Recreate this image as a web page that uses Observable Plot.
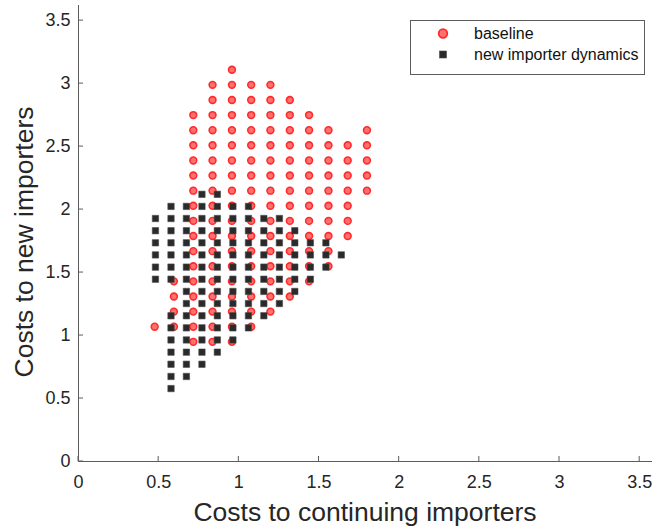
<!DOCTYPE html>
<html>
<head>
<meta charset="utf-8">
<script src="https://cdn.jsdelivr.net/npm/d3@7"></script>
<script src="https://cdn.jsdelivr.net/npm/@observablehq/plot@0.6"></script>
<style>
  html, body { margin: 0; padding: 0; background: #fff; }
  #chart svg { display: block; font-family: "Liberation Sans", Arial, Helvetica, sans-serif; }
</style>
</head>
<body>
<div id="chart"></div>
<script>
// ---- Data ----
const xTicks = [0, 0.5, 1, 1.5, 2, 2.5, 3, 3.5];
const xTickLabels = ["0", "0.5", "1", "1.5", "2", "2.5", "3", "3.5"];
const yTicks = [0, 0.5, 1, 1.5, 2, 2.5, 3, 3.5];
const yTickLabels = ["0", "0.5", "1", "1.5", "2", "2.5", "3", "3.5"];

const seriesNames = ["baseline", "new importer dynamics"];

// baseline: each row is a y value with the x values present on it
const baselineRows = [
  {y: 3.11, x: [0.957]},
  {y: 2.99, x: [0.836, 0.957, 1.077, 1.197]},
  {y: 2.87, x: [0.836, 0.957, 1.077, 1.197, 1.318]},
  {y: 2.75, x: [0.716, 0.836, 0.957, 1.077, 1.197, 1.318, 1.438]},
  {y: 2.63, x: [0.716, 0.836, 0.957, 1.077, 1.197, 1.318, 1.438, 1.559, 1.799]},
  {y: 2.51, x: [0.716, 0.836, 0.957, 1.077, 1.197, 1.318, 1.438, 1.559, 1.679, 1.799]},
  {y: 2.39, x: [0.716, 0.836, 0.957, 1.077, 1.197, 1.318, 1.438, 1.559, 1.679, 1.799]},
  {y: 2.27, x: [0.716, 0.836, 0.957, 1.077, 1.197, 1.318, 1.438, 1.559, 1.679, 1.799]},
  {y: 2.15, x: [0.716, 0.836, 0.957, 1.077, 1.197, 1.318, 1.438, 1.559, 1.679, 1.799]},
  {y: 2.03, x: [0.716, 0.836, 0.957, 1.077, 1.197, 1.318, 1.438, 1.559, 1.679]},
  {y: 1.91, x: [0.716, 0.836, 0.957, 1.077, 1.197, 1.318, 1.438, 1.559, 1.679]},
  {y: 1.79, x: [0.716, 0.836, 0.957, 1.077, 1.197, 1.318, 1.438, 1.559, 1.679]},
  {y: 1.67, x: [0.716, 0.836, 0.957, 1.077, 1.197, 1.318, 1.438, 1.559]},
  {y: 1.55, x: [0.716, 0.836, 0.957, 1.077, 1.197, 1.318, 1.438, 1.559]},
  {y: 1.43, x: [0.595, 0.716, 0.836, 0.957, 1.077, 1.197, 1.318, 1.438]},
  {y: 1.31, x: [0.595, 0.716, 0.836, 0.957, 1.077, 1.197, 1.318]},
  {y: 1.19, x: [0.595, 0.716, 0.836, 0.957, 1.077, 1.197]},
  {y: 1.07, x: [0.475, 0.595, 0.716, 0.836, 0.957, 1.077]},
  {y: 0.95, x: [0.716, 0.836, 0.957]}
];

// new importer dynamics
const dynamicsRows = [
  {y: 2.121, x: [0.770, 0.866]},
  {y: 2.025, x: [0.577, 0.673, 0.770, 0.866, 0.963, 1.060]},
  {y: 1.929, x: [0.480, 0.577, 0.673, 0.770, 0.866, 0.963, 1.060, 1.156, 1.253]},
  {y: 1.832, x: [0.480, 0.577, 0.673, 0.770, 0.866, 0.963, 1.060, 1.156, 1.253, 1.349]},
  {y: 1.736, x: [0.480, 0.577, 0.673, 0.770, 0.866, 0.963, 1.060, 1.156, 1.253, 1.349, 1.446, 1.543]},
  {y: 1.640, x: [0.480, 0.577, 0.673, 0.770, 0.866, 0.963, 1.060, 1.156, 1.253, 1.349, 1.446, 1.543, 1.639]},
  {y: 1.543, x: [0.480, 0.577, 0.673, 0.770, 0.866, 0.963, 1.060, 1.156, 1.253, 1.349, 1.446, 1.543]},
  {y: 1.447, x: [0.480, 0.577, 0.673, 0.770, 0.866, 0.963, 1.060, 1.156, 1.253, 1.349, 1.446]},
  {y: 1.350, x: [0.673, 0.770, 0.866, 0.963, 1.060, 1.156, 1.253, 1.349]},
  {y: 1.254, x: [0.673, 0.770, 0.866, 0.963, 1.060, 1.156, 1.253]},
  {y: 1.157, x: [0.577, 0.673, 0.770, 0.866, 0.963, 1.060, 1.156]},
  {y: 1.061, x: [0.577, 0.673, 0.770, 0.866, 0.963, 1.060]},
  {y: 0.965, x: [0.577, 0.673, 0.770, 0.866, 0.963]},
  {y: 0.868, x: [0.577, 0.673, 0.770, 0.866]},
  {y: 0.772, x: [0.577, 0.673, 0.770]},
  {y: 0.675, x: [0.577, 0.673]},
  {y: 0.579, x: [0.577]}
];

const xLabel = "Costs to continuing importers";
const yLabel = "Costs to new importers";

// ---- Build point tables ----
const baseline = baselineRows.flatMap(r => r.x.map(x => ({x, y: r.y})));
const dynamics = dynamicsRows.flatMap(r => r.x.map(x => ({x, y: r.y})));

const ink = "#262626";
const axisGray = "#5c5c5c";
const redStroke = "#ff2b2b";
const redFill = "#ff7070";
const blackFill = "#2a2a2a";

const chart = Plot.plot({
  width: 652,
  height: 527,
  marginLeft: 78,
  marginRight: 0,
  marginTop: 5,
  marginBottom: 66,
  style: {fontFamily: '"Liberation Sans", Arial, Helvetica, sans-serif', background: "#fff"},
  x: {domain: [0, 3.58], label: null},
  y: {domain: [0, 3.62], label: null},
  marks: [
    Plot.axisX({ticks: xTicks, tickFormat: (d, i) => xTickLabels[i], tickSize: 0, tickPadding: 14, fontSize: 18, fill: ink, label: null}),
    Plot.axisY({ticks: yTicks, tickFormat: (d, i) => yTickLabels[i], tickSize: 0, tickPadding: 8, fontSize: 18, fill: ink, label: null}),
    Plot.ruleY([0], {stroke: axisGray, strokeWidth: 1}),
    Plot.ruleX([0], {stroke: axisGray, strokeWidth: 1}),
    Plot.dot(baseline, {x: "x", y: "y", r: 3.4, fill: redFill, stroke: redStroke, strokeWidth: 1.6}),
    Plot.dot(dynamics, {x: "x", y: "y", symbol: "square", r: 3.6, fill: blackFill, stroke: "#4a4a4a", strokeWidth: 0.6})
  ]
});

document.getElementById("chart").appendChild(chart);

// ---- Inward ticks, axis labels, legend (positioned with the chart's own scales) ----
const svg = d3.select(chart);
const sx = chart.scale("x");
const sy = chart.scale("y");
const x0 = sx.apply(0), y0 = sy.apply(0);

const tickG = svg.append("g").attr("stroke", axisGray).attr("stroke-width", 1);
xTicks.forEach(t => {
  const px = sx.apply(t);
  tickG.append("line").attr("x1", px).attr("x2", px).attr("y1", y0).attr("y2", y0 - 5);
});
yTicks.forEach(t => {
  const py = sy.apply(t);
  tickG.append("line").attr("x1", x0).attr("x2", x0 + 5).attr("y1", py).attr("y2", py);
});

svg.append("text")
  .attr("x", (x0 + 652) / 2)
  .attr("y", 521)
  .attr("text-anchor", "middle")
  .attr("font-size", 26.5)
  .attr("fill", ink)
  .text(xLabel);

svg.append("text")
  .attr("transform", `translate(33,242) rotate(-90)`)
  .attr("text-anchor", "middle")
  .attr("font-size", 26.5)
  .attr("fill", ink)
  .text(yLabel);

// legend
const lg = svg.append("g").attr("text-anchor", "start");
lg.append("rect").attr("x", 410.5).attr("y", 20.5).attr("width", 234).attr("height", 54)
  .attr("fill", "#fff").attr("stroke", axisGray).attr("stroke-width", 1);
lg.append("circle").attr("cx", 443).attr("cy", 33.5).attr("r", 4.3)
  .attr("fill", redFill).attr("stroke", redStroke).attr("stroke-width", 1.8);
lg.append("rect").attr("x", 439.5).attr("y", 51).attr("width", 7).attr("height", 7)
  .attr("fill", blackFill).attr("stroke", "#4a4a4a").attr("stroke-width", 0.6);
lg.append("text").attr("x", 474).attr("y", 39).attr("text-anchor", "start").attr("font-size", 16).attr("fill", "#111").text(seriesNames[0]);
lg.append("text").attr("x", 474).attr("y", 60).attr("text-anchor", "start").attr("font-size", 16).attr("fill", "#111").text(seriesNames[1]);
</script>
</body>
</html>
